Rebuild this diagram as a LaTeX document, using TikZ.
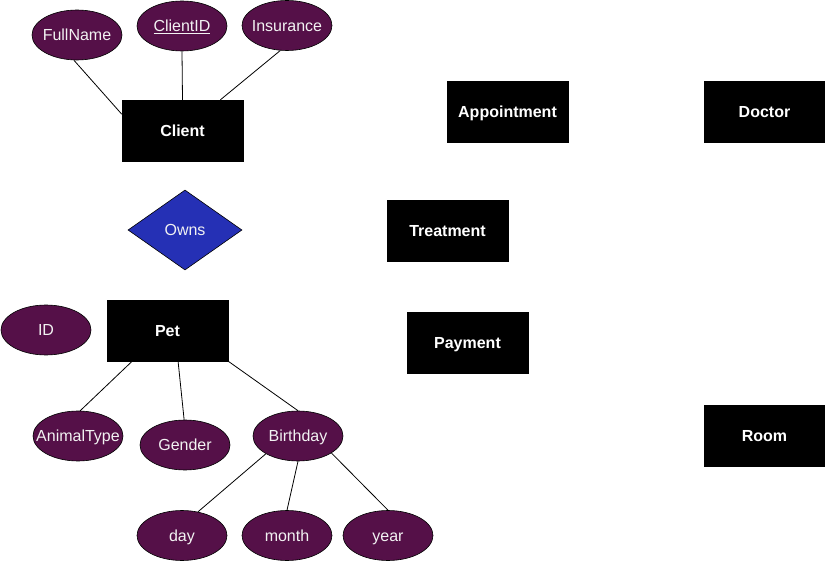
\documentclass[tikz,border=0pt]{standalone}
\usepackage{fontspec}
\setmainfont{Liberation Sans}
\usetikzlibrary{shapes.geometric}
\definecolor{attrfill}{HTML}{551048}
\definecolor{relfill}{HTML}{2530B5}
\definecolor{lighttext}{HTML}{F2F2F2}
\newcommand{\zw}[1]{\makebox[0pt]{#1}}
\begin{document}
\begin{tikzpicture}[x=1pt,y=-1pt,
  entity/.style={rectangle, fill=black, draw=black, minimum width=121pt, minimum height=61pt, inner sep=0pt, text=white, text height=15.5pt, text depth=3.2pt, font=\fontsize{16}{19}\selectfont\bfseries},
  attr/.style={ellipse, fill=attrfill, draw=black, line width=0.6pt, minimum width=90pt, minimum height=50pt, inner sep=0pt, text=lighttext, text height=15pt, text depth=3.2pt, font=\fontsize{16}{19}\selectfont},
  rel/.style={diamond, fill=relfill, draw=black, line width=0.6pt, minimum width=114pt, minimum height=80pt, inner sep=0pt, text=lighttext, text height=15pt, text depth=3.2pt, font=\fontsize{16}{19}\selectfont},
  link/.style={draw=black, line width=0.8pt}]
\useasboundingbox (0,0) rectangle (825,561);
% entities
\node[entity] (Client) at (182.5,130.5) {Client};
\node[entity] (Pet) at (167.5,330.5) {Pet};
\node[entity] (Appointment) at (507.5,111.5) {Appointment};
\node[entity] (Doctor) at (764.5,111.5) {Doctor};
\node[entity] (Treatment) at (447.5,230.5) {Treatment};
\node[entity] (Payment) at (467.5,342.5) {Payment};
\node[entity] (Room) at (764.5,435.5) {Room};
% relationship
\node[rel] (Owns) at (185,230) {\zw{Owns}};
% attributes
\node[attr] (FullName) at (77,35) {\zw{FullName}};
\node[attr] (ClientID) at (182,26) {\zw{\underline{ClientID}}};
\node[attr] (Insurance) at (287,25.5) {\zw{Insurance}};
\node[attr] (ID) at (46,330) {\zw{ID}};
\node[attr] (AnimalType) at (78,436) {\zw{AnimalType}};
\node[attr] (Gender) at (185,445) {\zw{Gender}};
\node[attr] (Birthday) at (298,436) {\zw{Birthday}};
\node[attr] (day) at (182,535.5) {\zw{day}};
\node[attr] (month) at (287,535.5) {\zw{month}};
\node[attr] (year) at (388,535.5) {\zw{year}};
% connectors
\draw[link] (FullName.263) -- (Client.165);
\draw[link] (ClientID.south) -- (Client.north);
\draw[link] (Insurance.255) -- (Client.39);
\draw[link] (Pet.221) -- (AnimalType.85);
\draw[link] (Pet.289) -- (Gender.92);
\draw[link] (Pet.south east) -- (Birthday.north);
\draw[link] (Birthday.209) -- (day.56);
\draw[link] (Birthday.south) -- (month.north);
\draw[link] (Birthday.333) -- (year.north);
\end{tikzpicture}
\end{document}
